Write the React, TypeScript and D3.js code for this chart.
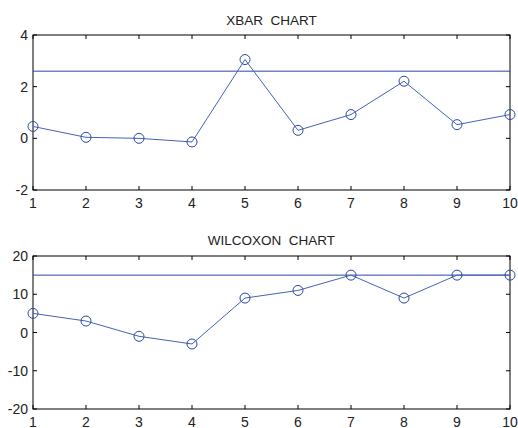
import React from "react";
import * as d3 from "d3";

const samples = [1, 2, 3, 4, 5, 6, 7, 8, 9, 10];
const xbarValues = [0.46, 0.04, 0.0, -0.14, 3.05, 0.31, 0.92, 2.21, 0.53, 0.92];
const xbarLimit = 2.6;
const xbarTicks = [-2, 0, 2, 4];
const wilcoxonValues = [5, 3, -1, -3, 9, 11, 15, 9, 15, 15];
const wilcoxonLimit = 15;
const wilcoxonTicks = [-20, -10, 0, 10, 20];

const W = 518;
const H = 428;
const LINE = "#4363b8";
const LIMIT = "#2a47a3";
const FONT = "'Liberation Sans', Arial, sans-serif";

type PanelProps = {
  title: string;
  values: number[];
  limit: number;
  ticks: number[];
  top: number;
  bottom: number;
  titleY: number;
};

function Panel({ title, values, limit, ticks, top, bottom, titleY }: PanelProps) {
  const left = 33;
  const right = 510;
  const x = d3.scaleLinear().domain([1, 10]).range([left, right]);
  const y = d3
    .scaleLinear()
    .domain([ticks[0], ticks[ticks.length - 1]])
    .range([bottom, top]);
  const line = d3
    .line<number>()
    .x((_, i) => x(samples[i]))
    .y((d) => y(d));
  const tl = 4;
  return (
    <g>
      <text
        x={(left + right) / 2}
        y={titleY}
        textAnchor="middle"
        fontSize={13.5}
        fontFamily={FONT}
        fill="#222"
        style={{ whiteSpace: "pre" }}
      >
        {title}
      </text>
      <rect x={left} y={top} width={right - left} height={bottom - top} fill="#fff" stroke="#000" strokeWidth={1} />
      {samples.map((s) => (
        <g key={"xt" + s}>
          <line x1={x(s)} x2={x(s)} y1={bottom} y2={bottom - tl} stroke="#000" />
          <line x1={x(s)} x2={x(s)} y1={top} y2={top + tl} stroke="#000" />
          <text
            x={x(s)}
            y={bottom + 18}
            textAnchor="middle"
            fontSize={14}
            fontFamily={FONT}
            fill="#222"
          >
            {s}
          </text>
        </g>
      ))}
      {ticks.map((t) => (
        <g key={"yt" + t}>
          <line x1={left} x2={left + tl} y1={y(t)} y2={y(t)} stroke="#000" />
          <line x1={right} x2={right - tl} y1={y(t)} y2={y(t)} stroke="#000" />
          <text
            x={left - 5}
            y={y(t) + 5}
            textAnchor="end"
            fontSize={14}
            fontFamily={FONT}
            fill="#222"
          >
            {t}
          </text>
        </g>
      ))}
      <line x1={left} x2={right} y1={y(limit)} y2={y(limit)} stroke={LIMIT} strokeWidth={1} />
      <path d={line(values) || ""} fill="none" stroke={LINE} strokeWidth={1} />
      {values.map((v, i) => (
        <circle key={"c" + i} cx={x(samples[i])} cy={y(v)} r={5} fill="none" stroke={LIMIT} strokeWidth={1} />
      ))}
    </g>
  );
}

export default function App() {
  return (
    <svg
      width={W}
      height={H}
      style={{ position: "absolute", left: 0, top: 0, background: "#fff" }}
    >
      <rect x={0} y={0} width={W} height={H} fill="#fff" />
      <Panel
        title="XBAR  CHART"
        values={xbarValues}
        limit={xbarLimit}
        ticks={xbarTicks}
        top={35}
        bottom={190}
        titleY={25}
      />
      <Panel
        title="WILCOXON  CHART"
        values={wilcoxonValues}
        limit={wilcoxonLimit}
        ticks={wilcoxonTicks}
        top={256}
        bottom={409}
        titleY={245}
      />
    </svg>
  );
}
